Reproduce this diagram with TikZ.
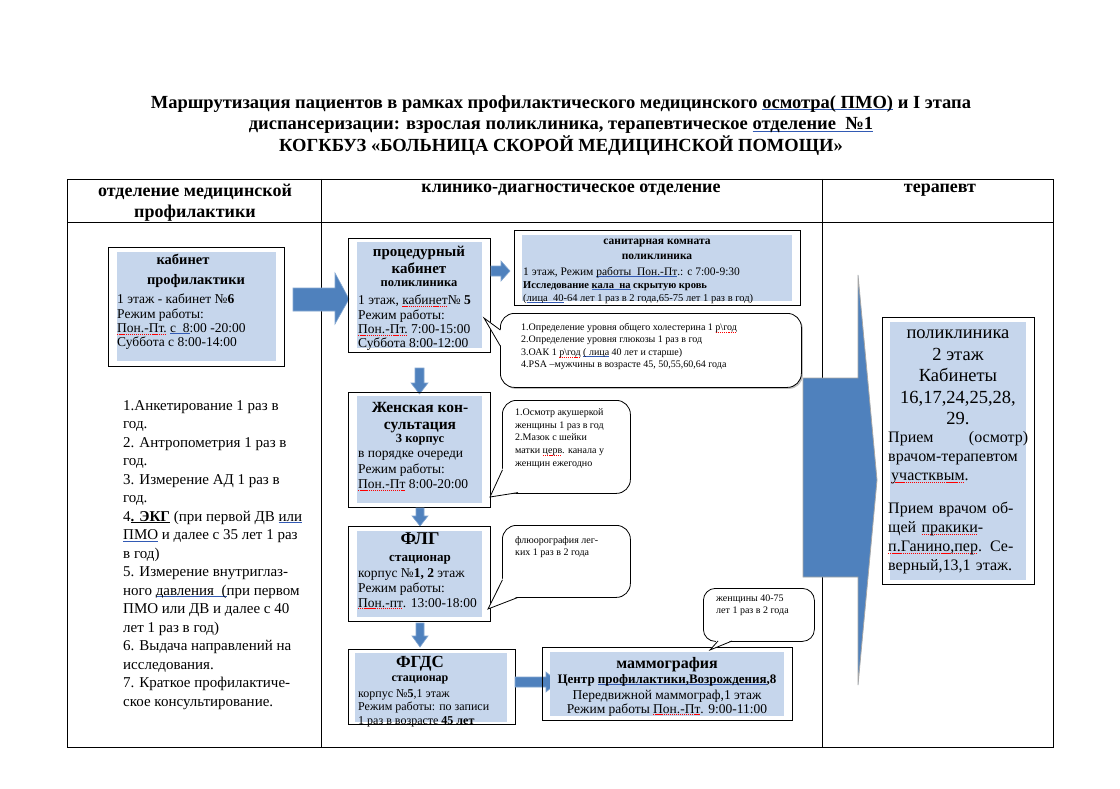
\documentclass[tikz,border=0pt]{standalone}
\usepackage{fontspec}
\setmainfont{Liberation Serif}
\usetikzlibrary{shadows}
\definecolor{boxblue}{RGB}{198,214,236}
\definecolor{arrblue}{RGB}{79,129,189}
\definecolor{ulblue}{RGB}{50,90,180}
\newcommand\ulc[2]{\leavevmode\begingroup\setbox0\hbox{#2}\rlap{\textcolor{#1}{\rule[-1.6pt]{\wd0}{0.6pt}}}\box0\endgroup}
\newcommand\bu[1]{\ulc{ulblue}{#1}}
\newcommand\bk[1]{\ulc{black}{#1}}
\newcommand\ru[1]{\leavevmode\begingroup\setbox0\hbox{#1}\rlap{\hbox to \wd0{\color{red}\xleaders\hbox to 2pt{\rule[-1.9pt]{1.2pt}{0.6pt}\hss}\hfill}}\box0\endgroup}
\newcommand\fs[2]{\fontsize{#1}{#2}\selectfont}
\begin{document}
\begin{tikzpicture}[x=1pt,y=-1pt,
  box/.style={draw=black, line width=0.9pt, inner sep=0pt, anchor=north west},
  tl/.style={inner sep=0pt, align=left, anchor=north west},
  tc/.style={inner sep=0pt, align=center, anchor=north},
  blockarrow/.style={fill=arrblue, draw=arrblue!70!white, line width=0.6pt, line join=miter},
  callout/.style={draw=black, line width=0.8pt, rounded corners=14pt, inner sep=0pt, anchor=north west, fill=white},
]
\useasboundingbox (0,0) rectangle (1120,789);
\fill[white] (0,0) rectangle (1120,789);

% title
\node[tc, font=\bfseries\fs{18.5}{21.5}] (title) at (561,95) {Маршрутизация пациентов в рамках профилактического медицинского \bu{осмотра( ПМО)} и I этапа\\диспансеризации: взрослая поликлиника, терапевтическое \bu{отделение~~№1}\\КОГКБУЗ «БОЛЬНИЦА СКОРОЙ МЕДИЦИНСКОЙ ПОМОЩИ»};

% table
\draw[line width=0.8pt] (67,179) rectangle (1053,747);
\draw[line width=0.8pt] (67,222) -- (1053,222) (321,179) -- (321,747) (822,179) -- (822,747);
\node[tc, font=\bfseries\fs{18}{21}] (h1) at (195,184) {отделение медицинской\\профилактики};
\node[tc, font=\bfseries\fs{18}{21}] (h2) at (571,184) {клинико-диагностическое отделение};
\node[tc, font=\bfseries\fs{18}{21}] (h3) at (940,184) {терапевт};

% left box
\node[box, minimum width=176, minimum height=119] (kp) at (108,247) {};
\fill[boxblue] (117,252) rectangle (276,361);
\node[tc, font=\bfseries\fs{14.5}{20}] (kpT) at (196,254) {кабинет\hspace*{26pt}\\профилактики};
\node[tl, font=\fs{13.5}{14.3}] (kpB) at (117,294) {1 этаж - кабинет №\textbf{6}\\Режим работы:\\\ru{Пон.-Пт.} \bu{с~~8}:00 -20:00\\Суббота с 8:00-14:00};

% list
\node[tl, font=\fs{15}{18.5}] (list) at (123,400) {1.Анкетирование 1 раз в\\год.\\2. Антропометрия 1 раз в\\год.\\3. Измерение АД 1 раз в\\год.\\4\bk{\textbf{. ЭКГ}} (при первой ДВ \bu{или}\\\bu{ПМО} и далее с 35 лет 1 раз\\в год)\\5. Измерение внутриглаз-\\ного \bu{давления~~(}при первом\\ПМО или ДВ и далее с 40\\лет 1 раз в год)\\6. Выдача направлений на\\исследования.\\7. Краткое профилактиче-\\ское консультирование.};

% arrow left -> center
\draw[blockarrow] (293,288) -- (335,288) -- (335,273) -- (349,299) -- (335,324) -- (335,311) -- (293,311) -- cycle;

% procedural room
\node[box, minimum width=142, minimum height=114] (proc) at (348,238) {};
\fill[boxblue] (357,242) rectangle (482,348);
\node[tc, font=\bfseries\fs{15}{16.5}] (procT) at (419,246) {процедурный\\кабинет};
\node[tc, font=\bfseries\fs{12.5}{14}] (procP) at (419,280) {поликлиника};
\node[tl, font=\fs{13.5}{14.3}] (procB) at (358,295) {1 этаж, \ru{кабинет}№ \textbf{5}\\Режим работы:\\\ru{Пон.-Пт.} 7:00-15:00\\Суббота 8:00-12:00};

% arrow -> sanitary
\draw[blockarrow] (491,266) -- (501,266) -- (501,261) -- (510,271) -- (501,281) -- (501,276) -- (491,276) -- cycle;

% sanitary room
\node[box, minimum width=286, minimum height=75] (san) at (514,230) {};
\fill[boxblue] (522,235) rectangle (792,301);
\node[tc, font=\bfseries\fs{11.5}{15}] (sanT) at (657,239) {санитарная комната\\поликлиника};
\node[tl, font=\fs{11.5}{13}] (sanB) at (523,267) {1 этаж, Режим \bu{работы~~Пон.-Пт}.: с 7:00-9:30\\{\bfseries\fs{10.5}{13}Исследование \bu{кала~~на} скрытую кровь}\\{\fs{10.5}{13}(\bu{лица~~40}-64 лет 1 раз в 2 года,65-75 лет 1 раз в год)}};

% callout 1
\node[callout, drop shadow={shadow xshift=1.5pt, shadow yshift=-1.5pt, opacity=0.5}, minimum width=301, minimum height=74] (co1) at (500,313) {};
\fill[white] (501,330) -- (484,318) -- (501,346) -- cycle;
\draw[line width=0.8pt] (500.3,330) -- (484,318) -- (500.3,346);
\node[tl, font=\fs{10}{12.5}] (co1t) at (521,323) {1.Определение уровня общего холестерина 1 \ru{р\textbackslash год}\\2.Определение уровня глюкозы 1 раз в год\\3.ОАК 1 \ru{р\textbackslash год} \bu{(~лица} 40 лет и старше)\\4.PSA –мужчины в возрасте 45, 50,55,60,64 года};

% arrow down 1
\draw[blockarrow] (415,368) -- (424,368) -- (424,383) -- (428,383) -- (419.5,394) -- (411,383) -- (415,383) -- cycle;

% women's consultation
\node[box, minimum width=142, minimum height=115] (zk) at (348,392) {};
\fill[boxblue] (357,396) rectangle (482,503);
\node[tc, font=\bfseries\fs{15.5}{17.5}] (zkT) at (420,402) {Женская кон-\\сультация};
\node[tc, font=\bfseries\fs{12.5}{14}] (zkK) at (420,434) {3 корпус};
\node[tl, font=\fs{13.5}{15.5}] (zkB) at (358,451) {в порядке очереди\\Режим работы:\\\ru{Пон.-Пт} 8:00-20:00};

% callout 2
\node[callout, minimum width=128, minimum height=93] (co2) at (502,400) {};
\fill[white] (503,468) -- (490,497) -- (519,492) -- cycle;
\draw[line width=0.8pt] (502.4,470) -- (490,497) -- (518,492.6);
\node[tl, font=\fs{10}{12.7}] (co2t) at (515,408.5) {1.Осмотр акушеркой\\женщины 1 раз в год\\2.Мазок с шейки\\матки \ru{церв}. канала у\\женщин ежегодно};

% arrow down 2
\draw[blockarrow] (416,508) -- (424,508) -- (424,516) -- (428,516) -- (420,526) -- (412,516) -- (416,516) -- cycle;

% FLG
\node[box, minimum width=142, minimum height=95] (flg) at (348,526) {};
\fill[boxblue] (357,531) rectangle (482,617);
\node[tc, font=\bfseries\fs{18}{20}] (flgT) at (420,533) {ФЛГ};
\node[tc, font=\bfseries\fs{13}{15}] (flgS) at (420,555) {стационар};
\node[tl, font=\fs{13.5}{15}] (flgB) at (358,568) {корпус №\textbf{1, 2} этаж\\Режим работы:\\\ru{Пон.-пт}. 13:00-18:00};

% callout 3
\node[callout, minimum width=128, minimum height=72] (co3) at (502,525) {};
\fill[white] (503,578) -- (488,609) -- (519,596) -- cycle;
\draw[line width=0.8pt] (502.4,580) -- (488,609) -- (518,597.4);
\node[tl, font=\fs{10}{12.7}] (co3t) at (515,536) {флюорография лег-\\ких 1 раз в 2 года};

% arrow down 3
\draw[blockarrow] (416,623) -- (424,623) -- (424,636) -- (428,636) -- (420,647) -- (412,636) -- (416,636) -- cycle;

% FGDS
\node[box, minimum width=167, minimum height=75] (fgds) at (348,649) {};
\fill[boxblue] (355,653) rectangle (507,722);
\node[tc, font=\bfseries\fs{17}{19}] (fgT) at (420,656) {ФГДС};
\node[tc, font=\bfseries\fs{12}{14}] (fgS) at (420,676) {стационар};
\node[tl, font=\fs{12}{13.5}] (fgB) at (358,689) {корпус №\textbf{5},1 этаж\\Режим работы: по записи\\1 раз в возрасте \textbf{45 лет}};

% arrow -> mammography
\draw[blockarrow] (515,677) -- (546,677) -- (546,672) -- (558,682) -- (546,692) -- (546,687) -- (515,687) -- cycle;

% mammography
\node[box, minimum width=250, minimum height=73] (mam) at (542,647) {};
\fill[boxblue] (550,652) rectangle (784,716);
\node[tc, font=\bfseries\fs{16}{18}] (mamT) at (667,657) {маммография};
\node[tc, font=\bfseries\fs{13}{15}] (mamC) at (667,674) {Центр \bu{профилактики,Возрождения},8};
\node[tc, font=\fs{13.5}{13.5}] (mamB) at (667,690) {Передвижной маммограф,1 этаж\\Режим работы \ru{Пон.-Пт}. 9:00-11:00};

% callout 4
\node[callout, rounded corners=12pt, minimum width=111, minimum height=53] (co4) at (703,588) {};
\fill[white] (717,640) -- (710,650) -- (733,640) -- cycle;
\draw[line width=0.8pt] (718,641) -- (710,650) -- (732,641);
\node[tl, font=\fs{10}{12}] (co4t) at (716,595) {женщины 40-75\\лет 1 раз в 2 года};

% big arrow
\draw[fill=arrblue, draw=gray!70, line width=0.8pt, line join=miter] (803,378) -- (858,378) -- (858,275) -- (877,480) -- (858,685) -- (858,577) -- (803,577) -- cycle;

% therapist box
\node[box, minimum width=152, minimum height=267] (ter) at (882,317) {};
\fill[boxblue] (890,322) rectangle (1026,580);
\node[tc, font=\fs{18.5}{21.5}] (terT) at (958,330) {поликлиника\\2 этаж\\Кабинеты\\16,17,24,25,28,\\29.};
\node[tl, font=\fs{16}{19}, text width=140] (terB) at (888,431) {Прием\hspace{0pt plus 1fill}(осмотр)\\врачом-терапевтом\\\hspace*{3pt}\ru{участквым}.\\[14pt]Прием врачом об-\\щей \ru{пракики}-\\\ru{п.Ганино,пер}. Се-\\верный,13,1 этаж.};
\end{tikzpicture}
\end{document}
